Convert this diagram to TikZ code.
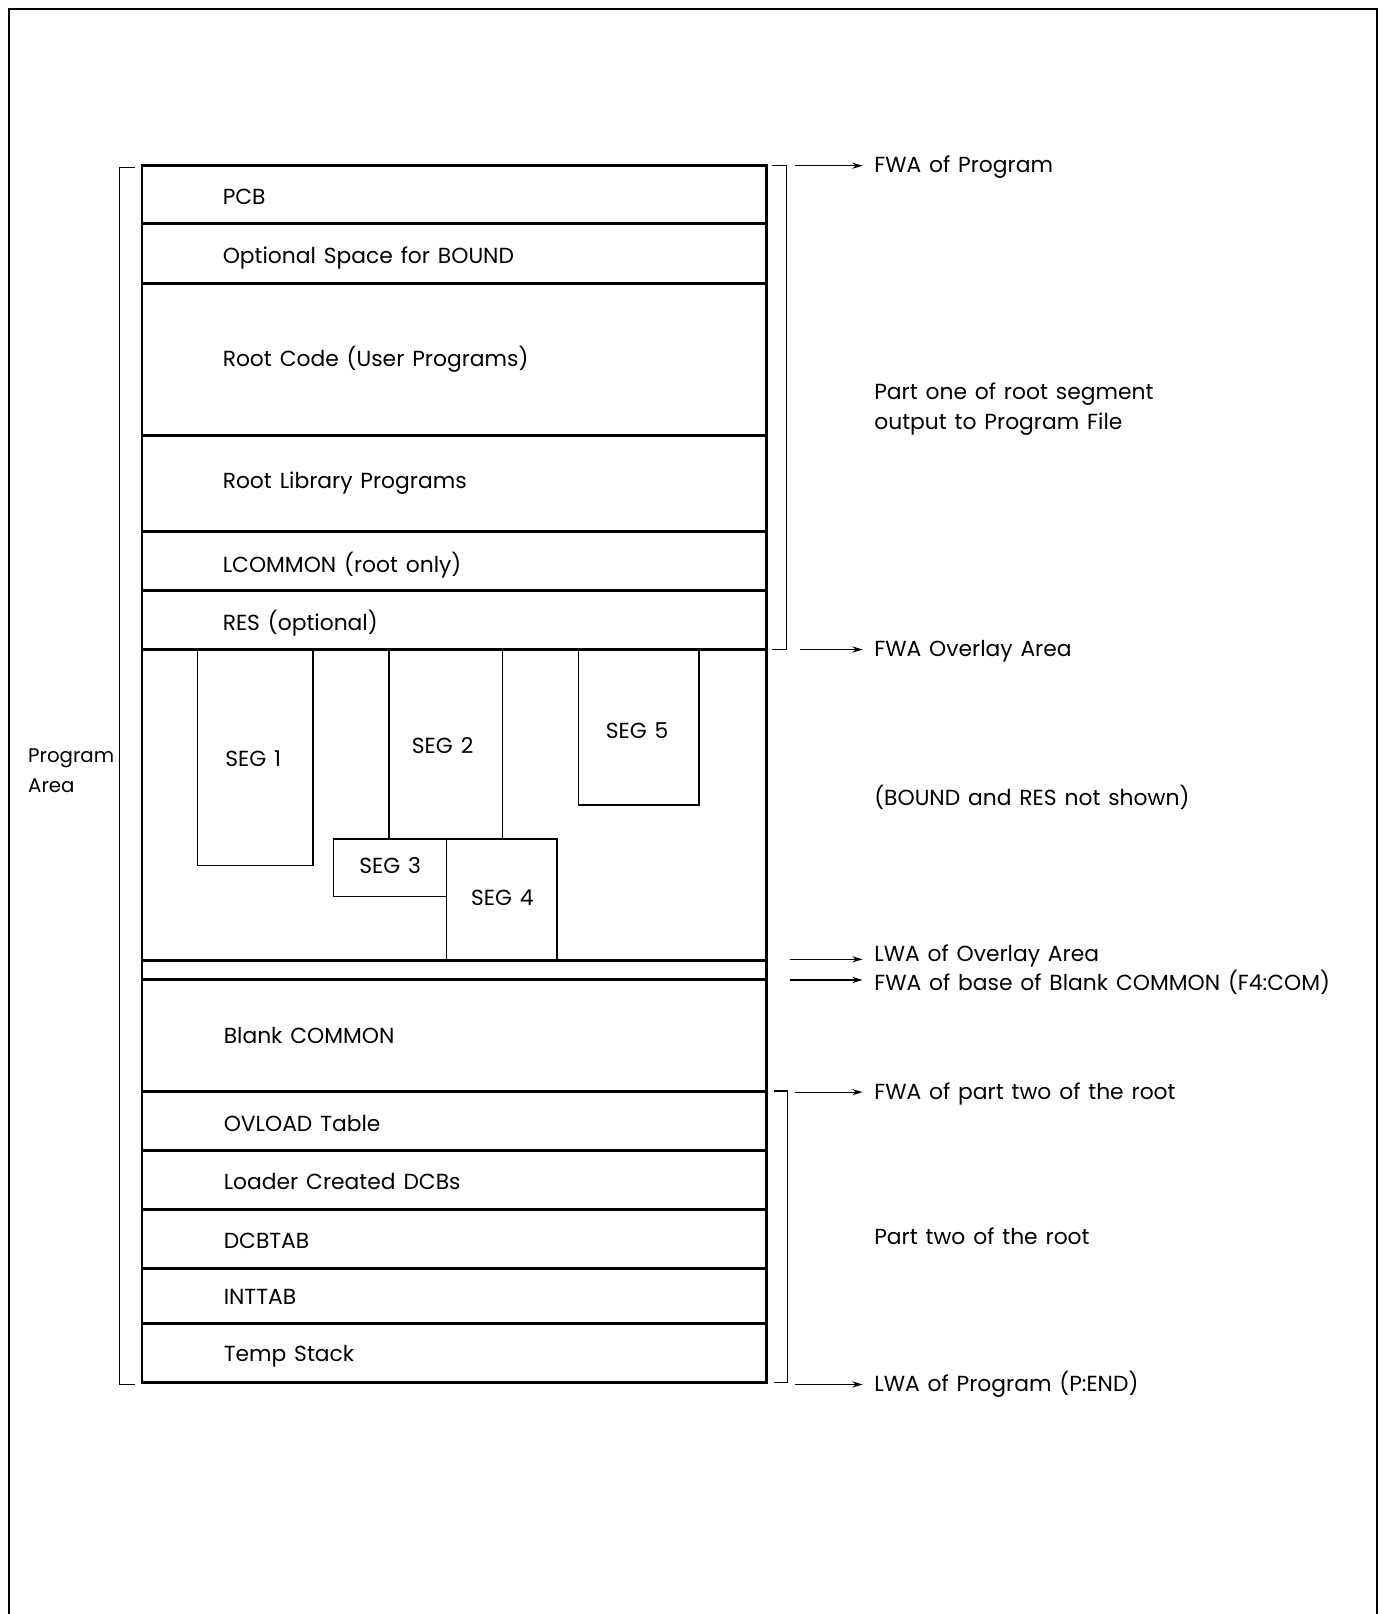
\documentclass[tikz,border=0pt]{standalone}
\usepackage{fontspec}
\setmainfont{Poppins}[WordSpace=1.35]
\usetikzlibrary{arrows.meta}

\begin{document}
\begin{tikzpicture}[
    x=0.5pt, y=-0.5pt,
    font=\fontsize{10.6}{14.5}\selectfont,
    mem/.style={line width=1.4pt},
    seg/.style={draw, line width=0.7pt},
    brk/.style={line width=0.6pt},
    txt/.style={anchor=west, inner sep=0pt, text height=0.8em, text depth=0.1em},
    lbl/.style={anchor=west, inner xsep=5.5pt, inner ysep=0pt, text height=0.8em, text depth=0.1em},
    ptr/.style={-{Stealth[length=5pt,width=3pt]}, line width=0.6pt}
  ]
  \useasboundingbox (0,0) rectangle (1347,1568);
  % outer frame
  \draw[line width=1pt] (9,1568) -- (9,9) -- (1338,9) -- (1338,1568);

  % memory layout
  \draw[mem] (138,161) rectangle (745,1343);
  \foreach \y in {217,275,423,516,574,631,933,952,1060,1118,1175,1232,1286}
    \draw[mem] (138,\y) -- (745,\y);

  \node[txt] (pcb)     at (216,192)  {PCB};
  \node[txt] (bound)   at (216,249)  {Optional Space for BOUND};
  \node[txt] (root)    at (216,349)  {Root Code (User Programs)};
  \node[txt] (rootlib) at (216,468)  {Root Library Programs};
  \node[txt] (lcommon) at (216,549)  {LCOMMON (root only)};
  \node[txt] (res)     at (216,606)  {RES (optional)};
  \node[txt] (blank)   at (217,1007) {Blank COMMON};
  \node[txt] (ovload)  at (217,1092) {OVLOAD Table};
  \node[txt] (dcbs)    at (217,1149) {Loader Created DCBs};
  \node[txt] (dcbtab)  at (217,1206) {DCBTAB};
  \node[txt] (inttab)  at (217,1260) {INTTAB};
  \node[txt] (stack)   at (217,1316) {Temp Stack};

  % overlay segments
  \draw[seg] (192,631) rectangle (304,841);
  \node (seg1) at (246,737) {SEG 1};
  \draw[seg] (378,631) -- (378,815) (488,631) -- (488,815);
  \node (seg2) at (430,724) {SEG 2};
  \draw[seg] (324,815) rectangle (434,871);
  \node (seg3) at (379,841) {SEG 3};
  \draw[seg] (434,815) rectangle (541,933);
  \node (seg4) at (488,872) {SEG 4};
  \draw[seg] (562,631) rectangle (679,782);
  \node (seg5) at (619,710) {SEG 5};

  % brackets
  \draw[brk] (131,163) -- (116,163) -- (116,1345) -- (131,1345);
  \node[txt, align=left, font=\fontsize{9.6}{14.5}\selectfont] (area) at (27,763) {Program\\Area};
  \draw[brk] (750,161) -- (764,161) -- (764,631) -- (750,631);
  \draw[brk] (752,1060) -- (765,1060) -- (765,1343) -- (752,1343);

  % addresses
  \coordinate (p1) at (772,161);
  \coordinate (p2) at (777,631);
  \coordinate (p3) at (767,932);
  \coordinate (p4) at (767,952);
  \coordinate (p5) at (772,1061);
  \coordinate (p6) at (772,1345);
  \node[lbl] (fwaprog) at (838,161)  {FWA of Program};
  \node[lbl] (fwaovl)  at (838,631)  {FWA Overlay Area};
  \node[lbl] (lwaovl)  at (838,927)  {LWA of Overlay Area};
  \node[lbl] (fwablank) at (838,955) {FWA of base of Blank COMMON (F4:COM)};
  \node[lbl] (fwapart) at (838,1061) {FWA of part two of the root};
  \node[lbl] (lwaprog) at (838,1345) {LWA of Program (P:END)};
  \draw[ptr] (p1) -- (fwaprog.west);
  \draw[ptr] (p2) -- (fwaovl.west);
  \draw[ptr] (p3) -- (lwaovl.west |- p3);
  \draw[ptr] (p4) -- (fwablank.west |- p4);
  \draw[ptr] (p5) -- (fwapart.west);
  \draw[ptr] (p6) -- (lwaprog.west);

  \node[txt, align=left] (part1) at (849,410) {Part one of root segment\\output to Program File};
  \node[txt] (notshown) at (849,776)  {(BOUND and RES not shown)};
  \node[txt] (part2)    at (849,1202) {Part two of the root};
\end{tikzpicture}
\end{document}
